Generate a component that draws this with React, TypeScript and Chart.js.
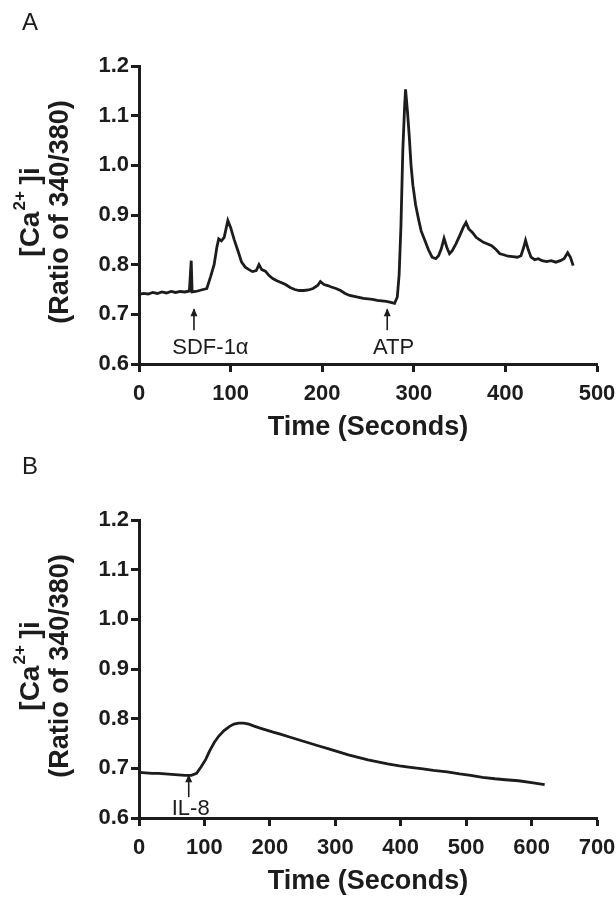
import React, { useEffect, useRef } from "react";
import { Chart, registerables } from "chart.js";
Chart.register(...registerables);

// ---- Panel A data ----
const A_TIME = [0, 5, 10, 15, 20, 25, 30, 35, 40, 45, 50, 55, 57, 58, 62, 66, 70, 74, 78, 82, 85, 87, 90, 93, 97, 100, 104, 108, 112, 116, 120, 124, 128, 131, 134, 138, 142, 146, 150, 155, 160, 165, 170, 175, 180, 185, 190, 195, 198, 202, 206, 210, 215, 220, 225, 230, 235, 240, 245, 250, 255, 260, 265, 270, 275, 279, 282, 284, 286, 288, 290, 291, 293, 295, 297, 299, 302, 305, 308, 312, 316, 320, 324, 327, 330, 333, 336, 339, 342, 346, 350, 354, 357, 360, 364, 368, 372, 376, 380, 385, 390, 394, 398, 403, 408, 413, 417, 420, 422, 425, 428, 432, 436, 440, 445, 450, 455, 460, 464, 468, 471, 474];
const A_RATIO = [0.740, 0.742, 0.741, 0.744, 0.742, 0.745, 0.743, 0.746, 0.744, 0.746, 0.745, 0.747, 0.808, 0.745, 0.746, 0.748, 0.750, 0.752, 0.775, 0.800, 0.835, 0.852, 0.848, 0.855, 0.889, 0.875, 0.850, 0.828, 0.805, 0.795, 0.790, 0.786, 0.788, 0.800, 0.790, 0.787, 0.778, 0.772, 0.768, 0.764, 0.760, 0.754, 0.750, 0.748, 0.748, 0.749, 0.752, 0.758, 0.766, 0.760, 0.758, 0.755, 0.752, 0.748, 0.742, 0.738, 0.736, 0.734, 0.732, 0.731, 0.730, 0.728, 0.727, 0.726, 0.724, 0.722, 0.735, 0.780, 0.880, 1.030, 1.120, 1.153, 1.110, 1.060, 1.000, 0.960, 0.920, 0.893, 0.868, 0.849, 0.830, 0.815, 0.812, 0.818, 0.832, 0.853, 0.835, 0.822, 0.828, 0.842, 0.858, 0.875, 0.885, 0.872, 0.865, 0.855, 0.850, 0.845, 0.842, 0.838, 0.830, 0.822, 0.820, 0.817, 0.816, 0.815, 0.818, 0.835, 0.849, 0.830, 0.815, 0.810, 0.812, 0.808, 0.806, 0.808, 0.805, 0.808, 0.812, 0.824, 0.815, 0.798];

// ---- Panel B data ----
const B_TIME = [0, 10, 20, 30, 40, 50, 60, 70, 80, 88, 95, 102, 108, 115, 122, 130, 138, 145, 152, 160, 168, 176, 185, 195, 205, 216, 230, 245, 260, 275, 290, 305, 320, 335, 350, 365, 380, 398, 415, 434, 450, 471, 490, 507, 525, 544, 560, 580, 600, 620];
const B_RATIO = [0.692, 0.691, 0.690, 0.690, 0.689, 0.688, 0.687, 0.686, 0.686, 0.690, 0.703, 0.718, 0.735, 0.752, 0.765, 0.776, 0.784, 0.789, 0.791, 0.791, 0.789, 0.785, 0.781, 0.777, 0.773, 0.769, 0.763, 0.757, 0.751, 0.745, 0.739, 0.733, 0.727, 0.722, 0.717, 0.713, 0.709, 0.705, 0.702, 0.699, 0.696, 0.693, 0.689, 0.686, 0.682, 0.679, 0.677, 0.675, 0.671, 0.667];

// ---- Axes / labels ----
const Y_MIN = 0.6;
const Y_MAX = 1.2;
const Y_STEP = 0.1;
const A_X_MAX = 500;
const B_X_MAX = 700;
const X_STEP = 100;
const X_TITLE = "Time (Seconds)";
const Y_TITLE_2 = "(Ratio of 340/380)";

// annotations: [arrow x, arrow bottom y, arrow top y, label, label y, label x]
const A_NOTES: [number, number, number, string, number, number][] = [
  [60, 0.668, 0.71, "SDF-1\u03B1", 0.632, 78],
  [271, 0.668, 0.71, "ATP", 0.632, 278],
];
const B_NOTES: [number, number, number, string, number, number][] = [
  [76, 0.642, 0.686, "IL-8", 0.619, 79],
];

const FONT = "'Liberation Sans', Arial, Helvetica, sans-serif";
const INK = "#1c1c1c";

const decor = {
  id: "decor",
  afterDraw(chart: any, _args: any, opts: any) {
    const { ctx, chartArea, scales } = chart;
    const xs = scales.x;
    const ys = scales.y;
    ctx.save();
    ctx.fillStyle = INK;
    ctx.strokeStyle = INK;
    // panel letter
    ctx.font = `24px ${FONT}`;
    ctx.textAlign = "left";
    ctx.textBaseline = "middle";
    ctx.fillText(opts.letter, 22, opts.letterY);

    // x title
    ctx.font = `bold 27px ${FONT}`;
    ctx.textAlign = "center";
    ctx.fillText(X_TITLE, (chartArea.left + chartArea.right) / 2, chartArea.bottom + 64);

    // y titles (rotated)
    const cy = (chartArea.top + chartArea.bottom) / 2 - 3;
    ctx.save();
    ctx.translate(61, cy);
    ctx.rotate(-Math.PI / 2);
    ctx.font = `bold 27px ${FONT}`;
    ctx.textAlign = "center";
    ctx.textBaseline = "middle";
    ctx.fillText(Y_TITLE_2, 0, 0);
    ctx.restore();

    ctx.save();
    ctx.translate(31, cy);
    ctx.rotate(-Math.PI / 2);
    ctx.textBaseline = "middle";
    ctx.textAlign = "left";
    const big = `bold 28px ${FONT}`;
    const small = `bold 17px ${FONT}`;
    ctx.font = big;
    const w1 = ctx.measureText("[Ca").width;
    const w3 = ctx.measureText(" ]i").width;
    ctx.font = small;
    const w2 = ctx.measureText("2+").width;
    const x0 = -(w1 + w2 + w3) / 2;
    ctx.font = big;
    ctx.fillText("[Ca", x0, 0);
    ctx.font = small;
    ctx.fillText("2+", x0 + w1 + 1, -11);
    ctx.font = big;
    ctx.fillText(" ]i", x0 + w1 + w2, 0);
    ctx.restore();

    // annotations
    for (const n of opts.notes) {
      const [xv, yb, yt, label, ly, lx] = n;
      const px = xs.getPixelForValue(xv);
      const pb = ys.getPixelForValue(yb);
      const pt = ys.getPixelForValue(yt);
      ctx.lineWidth = 1.6;
      ctx.beginPath();
      ctx.moveTo(px, pb);
      ctx.lineTo(px, pt);
      ctx.stroke();
      ctx.beginPath();
      ctx.moveTo(px, pt - 1);
      ctx.lineTo(px - 3.5, pt + 7);
      ctx.lineTo(px + 3.5, pt + 7);
      ctx.closePath();
      ctx.fill();
      ctx.font = `22px ${FONT}`;
      ctx.textAlign = "center";
      ctx.textBaseline = "middle";
      ctx.fillText(label, xs.getPixelForValue(lx), ys.getPixelForValue(ly));
    }
    ctx.restore();
  },
};

function Panel({ time, ratio, xMax, letter, letterY, notes, top }: any) {
  const ref = useRef<HTMLCanvasElement>(null);
  useEffect(() => {
    const pts = time.map((t: number, i: number) => ({ x: t, y: ratio[i] }));
    const tickFont = { family: FONT, size: 22, weight: "bold" as const };
    const c = new Chart(ref.current!, {
      type: "line",
      data: {
        datasets: [
          {
            data: pts,
            borderColor: INK,
            borderWidth: 2.8,
            pointRadius: 0,
            tension: 0,
            fill: false,
          },
        ],
      },
      options: {
        animation: false,
        responsive: false,
        layout: { padding: { top: 66, right: 19, left: 0, bottom: 0 } },
        plugins: {
          legend: { display: false },
          tooltip: { enabled: false },
          decor: { letter, letterY, notes },
        } as any,
        scales: {
          x: {
            type: "linear",
            min: 0,
            max: xMax,
            afterFit: (s: any) => {
              s.height = 79;
              s.paddingLeft = 0;
              s.paddingRight = 0;
            },
            ticks: { stepSize: X_STEP, color: INK, font: tickFont, padding: 9, maxRotation: 0 },
            grid: { drawOnChartArea: false, tickLength: 8, tickWidth: 3, tickColor: INK },
            border: { display: true, color: INK, width: 3 },
          },
          y: {
            type: "linear",
            min: Y_MIN,
            max: Y_MAX,
            afterFit: (s: any) => {
              s.width = 139;
              s.paddingTop = 0;
              s.paddingBottom = 0;
            },
            ticks: {
              stepSize: Y_STEP,
              color: INK,
              font: tickFont,
              padding: 2,
              callback: (v: any) => Number(v).toFixed(1),
            },
            grid: { drawOnChartArea: false, tickLength: 8, tickWidth: 3, tickColor: INK },
            border: { display: true, color: INK, width: 3 },
          },
        },
      },
      plugins: [decor],
    });
    return () => c.destroy();
  }, []);
  return (
    <canvas
      ref={ref}
      width={616}
      height={443}
      style={{ position: "absolute", left: 0, top, width: 616, height: 443 }}
    />
  );
}

export default function App() {
  return (
    <div style={{ position: "absolute", left: 0, top: 0, width: 616, height: 897, background: "#fff", overflow: "hidden" }}>
      <Panel time={A_TIME} ratio={A_RATIO} xMax={A_X_MAX} letter="A" letterY={23} notes={A_NOTES} top={0} />
      <Panel time={B_TIME} ratio={B_RATIO} xMax={B_X_MAX} letter="B" letterY={13} notes={B_NOTES} top={454} />
    </div>
  );
}
